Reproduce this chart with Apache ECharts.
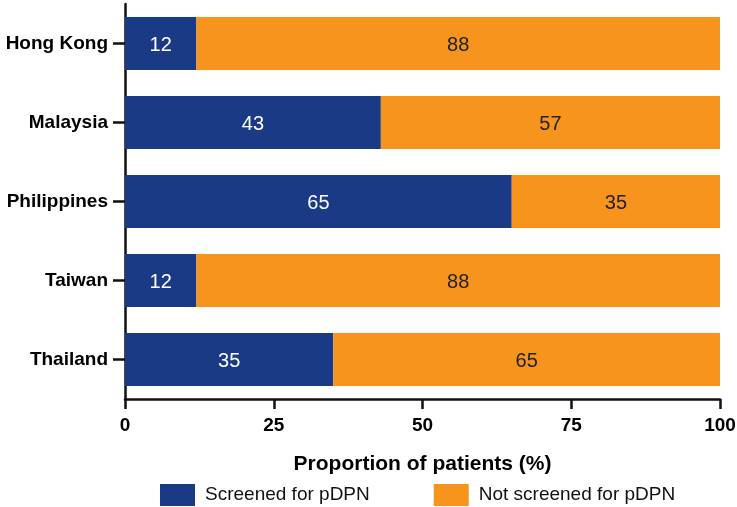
<!DOCTYPE html>
<html>
<head>
<meta charset="UTF-8">
<title>pDPN screening</title>
<script src="https://cdn.jsdelivr.net/npm/echarts@6/dist/echarts.min.js"></script>
<style>
	body{margin:0;background:#fff;}
	#chart{width:737px;height:507px;}
</style>
</head>
<body>
<div id="chart"></div>
<script>
var countries = ["Hong Kong", "Malaysia", "Philippines", "Taiwan", "Thailand"];
var screened = [12, 43, 65, 12, 35];
var notScreened = [88, 57, 35, 88, 65];
var xTicks = [0, 25, 50, 75, 100];

var myChart = echarts.init(document.getElementById("chart"));
var font = "Liberation Sans, Arial, sans-serif";

var option = {
	animation: false,
	grid: {left: 125, right: 17, top: 4, bottom: 108, outerBoundsMode: "none", containLabel: false},
	legend: {
		top: 484,
		left: 160,
		padding: 0,
		itemWidth: 35,
		itemHeight: 22,
		itemGap: 64,
		icon: "rect",
		textStyle: {fontFamily: font, fontSize: 19, color: "#111", padding: [0, 0, 0, 5]},
		data: ["Screened for pDPN", "Not screened for pDPN"]
	},
	xAxis: {
		type: "value",
		min: 0, max: 100, interval: 25,
		name: "Proportion of patients (%)",
		nameLocation: "middle",
		nameGap: 55,
		nameTextStyle: {fontFamily: font, fontSize: 21, fontWeight: "bold", color: "#000"},
		axisLine: {show: true, lineStyle: {color: "#111", width: 2.5}},
		axisTick: {show: true, length: 10, lineStyle: {color: "#111", width: 2.5}},
		axisLabel: {fontFamily: font, fontSize: 19, fontWeight: "bold", color: "#000", margin: 17,
			formatter: function(v){ return xTicks.indexOf(v) >= 0 ? v : ""; }},
		splitLine: {show: false}
	},
	yAxis: {
		type: "category",
		inverse: true,
		data: countries,
		axisLine: {show: true, lineStyle: {color: "#111", width: 2.5}},
		axisTick: {show: true, length: 12, alignWithLabel: true, lineStyle: {color: "#111", width: 2.5}},
		axisLabel: {fontFamily: font, fontSize: 19, fontWeight: "bold", color: "#000", margin: 17}
	},
	series: [{
		name: "Screened for pDPN",
		type: "bar",
		stack: "total",
		barWidth: 53,
		itemStyle: {color: "#1B3A85"},
		label: {show: true, position: "inside", color: "#fff", fontFamily: font, fontSize: 20, offset: [0, 2]},
		data: screened
	}, {
		name: "Not screened for pDPN",
		type: "bar",
		stack: "total",
		barWidth: 53,
		itemStyle: {color: "#F7941D"},
		label: {show: true, position: "inside", color: "#222", fontFamily: font, fontSize: 20, offset: [0, 2]},
		data: notScreened
	}]
};
myChart.setOption(option);
</script>
</body>
</html>
